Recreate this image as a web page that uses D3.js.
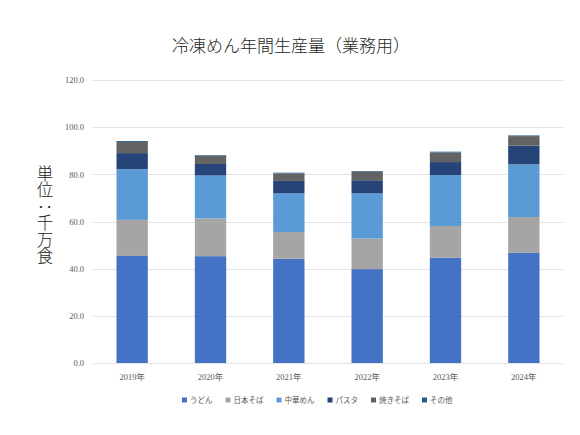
<!DOCTYPE html>
<html>
<head>
<meta charset="utf-8">
<script src="https://cdn.jsdelivr.net/npm/d3@7"></script>
<style>
  body { margin: 0; background: #fff; }
  svg { display: block; }
</style>
</head>
<body>
<div id="chart"></div>
<script>
// 年
const years = ['2019年', '2020年', '2021年', '2022年', '2023年', '2024年'];
// 系列名
const seriesNames = ['うどん', '日本そば', '中華めん', 'パスタ', '焼きそば', 'その他'];
// 値 (千万食)
const udon    = [45.4, 45.3, 44.2, 39.8, 44.6, 46.7];
const soba    = [15.3, 16.0, 11.3, 13.0, 13.5, 15.2];
const chuka   = [21.5, 18.2, 16.4, 19.1, 21.6, 22.3];
const pasta   = [6.8, 4.9, 5.3, 5.6, 5.5, 8.0];
const yakisoba = [4.7, 3.4, 3.2, 3.6, 4.1, 4.0];
const other   = [0.4, 0.3, 0.3, 0.3, 0.3, 0.3];
const yTicks = [0, 20, 40, 60, 80, 100, 120];
const colors = ['#4472C4', '#A5A5A5', '#5B9BD5', '#264478', '#636363', '#255E91'];

const seriesValues = [udon, soba, chuka, pasta, yakisoba, other];

const W = 580, H = 435;
const margin = { top: 80, right: 17, bottom: 72, left: 93 };
const width = W - margin.left - margin.right,
      height = H - margin.top - margin.bottom;

const svg = d3.select('#chart')
    .append('svg')
    .attr('width', W)
    .attr('height', H);

// テーブル作成
const table = years.map((y, i) => {
    const row = { year: y };
    seriesNames.forEach((s, j) => { row[s] = seriesValues[j][i]; });
    return row;
});
const stacked = d3.stack().keys(seriesNames)(table);

const x = d3.scaleBand().domain(years).range([0, width]).paddingInner(0.6).paddingOuter(0.3);
const y = d3.scaleLinear().domain([0, 120]).range([height, 0]);

const g = svg.append('g').attr('transform', `translate(${margin.left},${margin.top})`);

// グリッド
g.append('g')
    .selectAll('line')
    .data(yTicks)
    .enter()
    .append('line')
    .attr('x1', 0)
    .attr('x2', width)
    .attr('y1', d => Math.round(y(d)) + 0.5)
    .attr('y2', d => Math.round(y(d)) + 0.5)
    .attr('stroke', '#E3E3E3')
    .attr('stroke-width', 1);

// Y軸ラベル
const yAxis = g.append('g')
    .call(d3.axisLeft(y).tickValues(yTicks).tickFormat(d3.format('.1f')).tickSize(0).tickPadding(9));
yAxis.select('.domain').remove();
yAxis.selectAll('text')
    .attr('fill', '#595959')
    .style('font-family', '"Liberation Serif", "DejaVu Serif", serif')
    .style('font-size', '8.5px');

// X軸ラベル
const xAxis = g.append('g')
    .attr('transform', `translate(0,${height})`)
    .call(d3.axisBottom(x).tickSize(0).tickPadding(11));
xAxis.select('.domain').remove();
xAxis.selectAll('text')
    .attr('fill', '#595959')
    .style('font-family', '"Liberation Serif", "Noto Sans CJK JP", serif')
    .style('font-size', '8.5px');

// 棒
g.append('g')
    .selectAll('g')
    .data(stacked)
    .enter()
    .append('g')
    .attr('fill', (d, i) => colors[i])
    .selectAll('rect')
    .data(d => d)
    .enter()
    .append('rect')
    .attr('x', d => x(d.data.year))
    .attr('y', d => y(d[1]))
    .attr('height', d => y(d[0]) - y(d[1]))
    .attr('width', x.bandwidth());

// タイトル
svg.append('text')
    .attr('x', 291)
    .attr('y', 52)
    .attr('text-anchor', 'middle')
    .attr('fill', '#1f1f1f')
    .style('font-family', '"Noto Sans CJK JP", sans-serif')
    .style('font-weight', 300)
    .style('font-size', '17px')
    .text('冷凍めん年間生産量（業務用）');

// 縦書き単位
svg.append('text')
    .attr('x', 45)
    .attr('y', 165)
    .attr('fill', '#1a1a1a')
    .style('writing-mode', 'vertical-rl')
    .style('font-family', '"Noto Sans CJK JP", sans-serif')
    .style('font-weight', 300)
    .style('font-size', '16.5px')
    .text('単位：千万食');

// 凡例
const legend = svg.append('g').attr('transform', 'translate(182,400)');
let lx = 0;
seriesNames.forEach((s, i) => {
    const item = legend.append('g').attr('transform', `translate(${lx},0)`);
    item.append('rect')
        .attr('x', 0)
        .attr('y', -2.5)
        .attr('width', 5)
        .attr('height', 5)
        .attr('fill', colors[i]);
    const t = item.append('text')
        .attr('x', 8)
        .attr('y', 0)
        .attr('dy', '0.35em')
        .attr('fill', '#595959')
        .style('font-family', '"Noto Sans CJK JP", sans-serif')
        .style('font-size', '7.5px')
        .text(s);
    lx += 8 + t.node().getComputedTextLength() + 13;
});
</script>
</body>
</html>
